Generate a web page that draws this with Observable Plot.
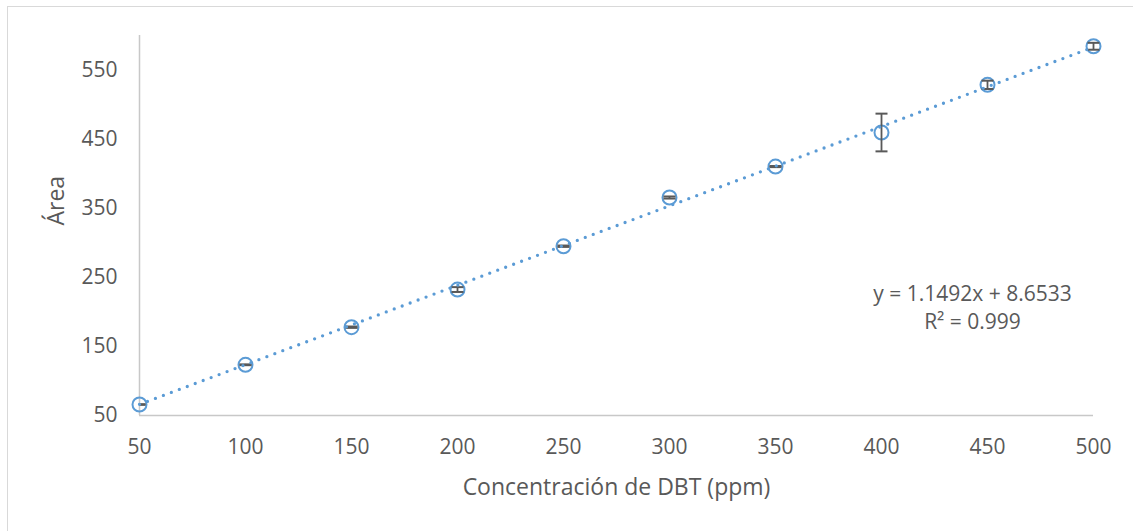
<!DOCTYPE html>
<html>
<head>
<meta charset="utf-8">
<script src="https://cdn.jsdelivr.net/npm/d3@7"></script>
<script src="https://cdn.jsdelivr.net/npm/@observablehq/plot@0.6"></script>
<style>
  html, body { margin: 0; background: #fff; }
  #chart { position: relative; width: 1133px; height: 531px; overflow: hidden; }
  #frame { position: absolute; left: 7px; top: 6px; width: 1140px; height: 540px;
           border: 1px solid #d9d9d9; box-sizing: border-box; }
  #chart svg { position: absolute; left: 0; top: 0; }
</style>
</head>
<body>
<div id="chart"><div id="frame"></div></div>
<script>
// Calibration data: DBT concentration (ppm) vs. peak area, with standard deviation
const concentrations = [50, 100, 150, 200, 250, 300, 350, 400, 450, 500];
const areas = [65.9, 123.4, 177.8, 232.3, 295.0, 365.5, 410.3, 459.6, 528.6, 584.4];
const errors = [0.5, 0.6, 1.0, 3.5, 1.0, 1.5, 0.8, 27.3, 6.0, 5.0];

const xTicks = [50, 100, 150, 200, 250, 300, 350, 400, 450, 500];
const yTicks = [50, 150, 250, 350, 450, 550];

// Linear fit reported for the calibration
const slope = 1.1492;
const intercept = 8.6533;
const rSquared = 0.999;

const xLabel = "Concentración de DBT (ppm)";
const yLabel = "Área";

const blue = "#5b9bd5";
const grey = "#595959";
const axisGrey = "#c8c8c8";

const rows = concentrations.map((c, i) => ({c, a: areas[i], e: errors[i]}));
const caps = rows.flatMap(d => [{c: d.c, v: d.a - d.e}, {c: d.c, v: d.a + d.e}]);
const [xMin, xMax] = d3.extent(concentrations);
const trend = [xMin, xMax].map(c => ({c, a: slope * c + intercept}));
const equation = `y = ${slope}x + ${intercept}\nR² = ${rSquared}`;

// Horizontal bar used as the error-bar cap; half width equals r
const capSymbol = {
  draw(context, size) {
    const w = Math.sqrt(size / Math.PI);
    context.moveTo(-w, 0);
    context.lineTo(w, 0);
  }
};

const capStyle = {x: "c", y: "v", symbol: capSymbol, r: 6, stroke: grey, strokeWidth: 2};

const chart = Plot.plot({
  width: 1133,
  height: 531,
  marginLeft: 139,
  marginRight: 40,
  marginTop: 35,
  marginBottom: 116,
  style: {fontFamily: "'Open Sans'", fontSize: "21px", color: grey, background: "transparent"},
  x: {domain: [50, 500]},
  y: {domain: [50, 600]},
  marks: [
    Plot.ruleY([50], {stroke: axisGrey, strokeWidth: 1.5}),
    Plot.ruleX([50], {stroke: axisGrey, strokeWidth: 1.5}),
    Plot.axisX({ticks: xTicks, tickSize: 0, tickPadding: 24, label: null}),
    Plot.axisY({ticks: yTicks, tickSize: 0, tickPadding: 22, label: null}),
    Plot.dot(rows, {x: "c", y: "a", r: 7, stroke: blue, strokeWidth: 2, fill: "none"}),
    Plot.ruleX(rows, {x: "c", y1: d => d.a - d.e, y2: d => d.a + d.e,
                      stroke: grey, strokeWidth: 1.8}),
    // caps at the left edge are cut off by the value axis
    Plot.dot(caps, {...capStyle, filter: d => d.c === xMin, clip: true}),
    Plot.dot(caps, {...capStyle, filter: d => d.c !== xMin}),
    Plot.line(trend, {x: "c", y: "a", stroke: blue, strokeWidth: 3.3,
                      strokeDasharray: "0 8.5", strokeLinecap: "round"}),
    Plot.text([equation], {frameAnchor: "right", dx: -121, dy: 81, textAnchor: "middle",
                           lineAnchor: "middle", lineHeight: 1.33, fill: grey, fontSize: 21}),
    Plot.text([xLabel], {frameAnchor: "bottom", dy: 72, lineAnchor: "middle",
                         fill: grey, fontSize: 23}),
    Plot.text([yLabel], {frameAnchor: "left", dx: -83, rotate: -90, lineAnchor: "middle",
                         fill: grey, fontSize: 23})
  ]
});

document.getElementById("chart").appendChild(chart);
</script>
</body>
</html>
